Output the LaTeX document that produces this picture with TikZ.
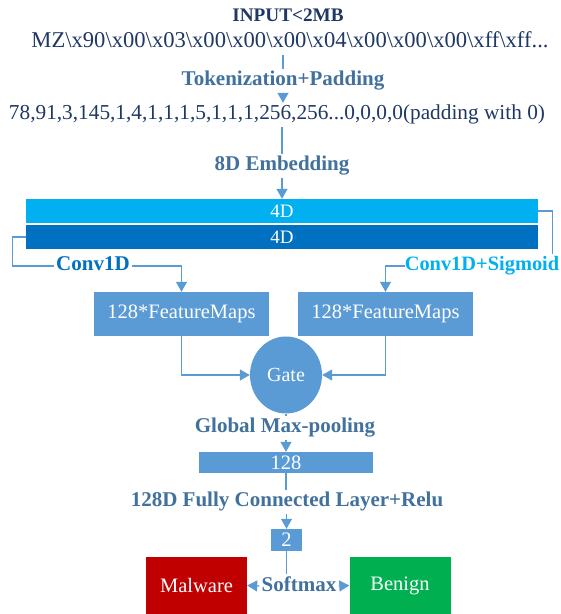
\documentclass[tikz,border=0pt]{standalone}
\usepackage{fontspec}
\setmainfont{Liberation Serif}
\usetikzlibrary{arrows.meta, shapes.geometric}
\definecolor{navy}{HTML}{1F3864}
\definecolor{steel}{HTML}{41719C}
\definecolor{layerblue}{HTML}{5B9BD5}
\definecolor{cyanbar}{HTML}{00B0F0}
\definecolor{deepbar}{HTML}{0070C0}
\definecolor{malred}{HTML}{C00000}
\definecolor{bengreen}{HTML}{00B050}
\newcommand{\hexbs}{\textbackslash}

\begin{document}
\begin{tikzpicture}[
  x=1pt, y=1pt,
  data/.style={text=navy, inner sep=2pt, text height=15pt, text depth=5pt},
  lbl/.style={font=\bfseries\fontsize{21}{25}\selectfont, text=steel, fill=white,
              inner sep=2pt, text height=15pt, text depth=5pt},
  layer/.style={rectangle, fill=layerblue, text=white, inner sep=0pt,
              font=\fontsize{20.5}{24}\selectfont},
  bar/.style={rectangle, text=white, minimum width=512pt, minimum height=24pt,
              inner sep=0pt, font=\fontsize{19}{22}\selectfont},
  outbox/.style={rectangle, text=white, minimum width=101pt, minimum height=57pt,
              inner sep=0pt, font=\fontsize{20.5}{24}\selectfont},
  line/.style={draw=layerblue, line width=1.2pt},
  arr/.style={line, -{Triangle[width=11pt,length=10pt]}},
]
\useasboundingbox (0,0) rectangle (561,614);

% input bytes and tokens
\node[data, font=\bfseries\fontsize{19.2}{23}\selectfont] (input) at (288,597) {INPUT<2MB};
\node[data, font=\fontsize{22.6}{26}\selectfont] (bytes) at (290,571)
  {MZ\hexbs x90\hexbs x00\hexbs x03\hexbs x00\hexbs x00\hexbs x00\hexbs x04\hexbs x00\hexbs x00\hexbs x00\hexbs xff\hexbs xff...};
\node[lbl] (tok) at (283,533) {Tokenization+Padding};
\node[data, font=\fontsize{21.3}{25}\selectfont] (tokens) at (277,499)
  {78,91,3,145,1,4,1,1,1,5,1,1,1,256,256...0,0,0,0(padding with 0)};
\node[lbl] (emb) at (282,448) {8D Embedding};

% embedding halves
\node[bar, fill=cyanbar] (halfa) at (282,403) {4D};
\node[bar, fill=deepbar] (halfb) at (282,377) {4D};

\node[lbl, text=deepbar] (conv) at (93,348) {Conv1D};
\node[lbl, text=cyanbar, font=\bfseries\fontsize{20.4}{25}\selectfont, inner xsep=0pt] (convsig) at (482,348) {Conv1D+Sigmoid};

% feature maps and gate
\node[layer, minimum width=175pt, minimum height=44pt] (fmaps) at (181.5,300) {128*FeatureMaps};
\node[layer, minimum width=175pt, minimum height=44pt] (fmapsig) at (385.5,300) {128*FeatureMaps};
\node[ellipse, fill=layerblue, text=white, minimum width=72pt, minimum height=77pt,
      inner sep=0pt, font=\fontsize{20}{24}\selectfont] (gate) at (286,239) {Gate};

% classifier head
\node[lbl] (pool) at (285,186) {Global Max-pooling};
\node[layer, minimum width=174pt, minimum height=21pt] (dense) at (286,151.5) {128};
\node[lbl] (fc) at (287,112) {128D Fully Connected Layer+Relu};
\node[layer, minimum width=31pt, minimum height=22pt] (logits) at (286.5,74) {2};
\node[lbl] (smax) at (299,28) {Softmax};
\node[outbox, fill=malred] (malware) at (196.5,28.5) {Malware};
\node[outbox, fill=bengreen] (benign) at (400,28.5) {Benign};

\draw[line] (tok.north |- bytes.south) -- (tok.north);
\draw[arr] (tok.south) -- (tok.south |- tokens.north);
\draw[line] (emb.north |- tokens.south) -- (emb.north);
\draw[arr] (emb.south) -- (emb.south |- halfa.north);

\draw[line] (halfb.west) -- ++(-13.5,0) |- (conv.west);
\draw[arr] (conv.east) -| (fmaps.north);
\draw[line] (halfa.east) -- ++(14.5,0) coordinate (turn) -- (turn |- convsig.north);
\draw[arr] (convsig.west) -| (fmapsig.north);

\draw[arr] (fmaps.south) |- (gate.west);
\draw[arr] (fmapsig.south) |- (gate.east);
\draw[line] (gate.south) -- (gate.south |- pool.north);
\draw[arr] (dense.north |- pool.south) -- (dense.north);
\draw[line] (dense.south) -- (dense.south |- fc.north);
\draw[arr] (logits.north |- fc.south) -- (logits.north);
\draw[line] (logits.south) -- (logits.south |- smax.north);
\draw[arr] (smax.west) -- (malware.east);
\draw[arr] (smax.east) -- (benign.west);

\end{tikzpicture}
\end{document}
